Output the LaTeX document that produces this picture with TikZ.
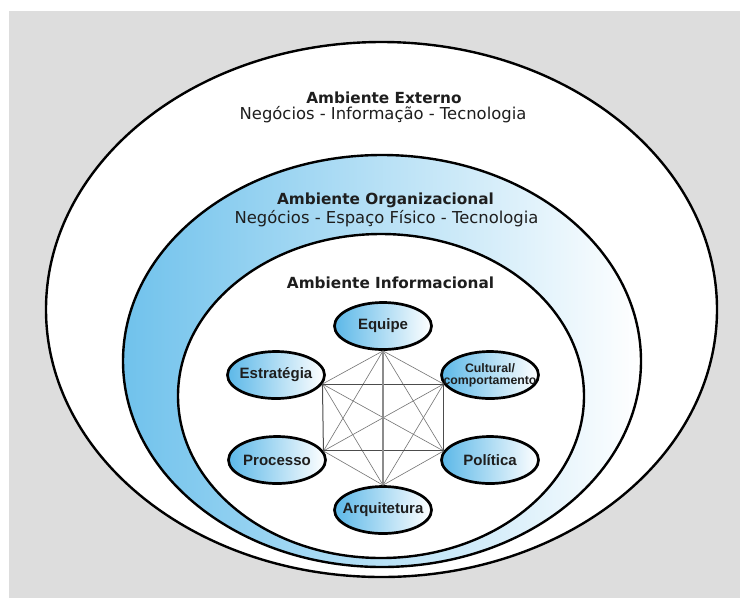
\documentclass[tikz,border=0pt]{standalone}
\usepackage{fontspec}
\usetikzlibrary{shapes.geometric}
\setmainfont{DejaVu Sans}
\newfontfamily\arialf{Liberation Sans}
\definecolor{bgray}{RGB}{221,221,221}
\definecolor{ringblue}{RGB}{112,194,236}
\definecolor{ovalblue}{RGB}{92,184,232}
\definecolor{txt}{RGB}{30,30,30}
\begin{document}
\begin{tikzpicture}[x=1pt,y=-1pt,
  bigline/.style={draw=black,line width=2.4pt},
  oval/.style={ellipse,draw=black,line width=2.7pt,minimum width=97pt,minimum height=47pt,inner sep=0pt,left color=ovalblue,right color=white},
  otext/.style={inner sep=0pt,text=txt,font=\arialf\bfseries\fontsize{15}{17}\selectfont},
  stext/.style={inner sep=0pt,text=txt,align=center,font=\arialf\bfseries\fontsize{12.3}{12}\selectfont},
  htitle/.style={anchor=base,inner sep=0pt,text=txt,font=\bfseries\fontsize{15.3}{18}\selectfont},
  hsub/.style={anchor=base,inner sep=0pt,text=txt,font=\fontsize{16.4}{18}\selectfont},
  rectl/.style={draw=black!70,line width=1pt},
  vertl/.style={draw=black!45,line width=2.2pt},
  diagl/.style={draw=black!55,line width=0.6pt}
]
\useasboundingbox (0,0) rectangle (741,598);
\fill[bgray] (9,11) rectangle (740,598);
% outer environment
\path[fill=white,bigline] (381.5,309.5) ellipse [x radius=335.5, y radius=267.5];
% organizational ring
\path[left color=ringblue,right color=white] (382,361) ellipse [x radius=259, y radius=206];
\path[bigline] (382,361) ellipse [x radius=259, y radius=206];
% informational
\path[fill=white,bigline] (381,396) ellipse [x radius=203, y radius=162];
% titles
\node[htitle] (ext) at (384,103) {Ambiente Externo};
\node[hsub] (extsub) at (383,119) {Negócios - Informação - Tecnologia};
\node[htitle] (org) at (385.5,204) {Ambiente Organizacional};
\node[hsub] (orgsub) at (386.5,223) {Negócios - Espaço Físico - Tecnologia};
\node[htitle] (inf) at (390.5,288) {Ambiente Informacional};
% ovals
\node[oval,label={[otext]center:Equipe}] (eq) at (383,326) {};
\node[oval,label={[otext]center:Estratégia}] (estr) at (276,375) {};
\node[oval,label={[stext]center:Cultural/\\comportamento}] (cult) at (490,375) {};
\node[oval,label={[otext]center:Processo}] (proc) at (277,460) {};
\node[oval,label={[otext]center:Política}] (pol) at (490,460) {};
\node[oval,label={[otext]center:Arquitetura}] (arq) at (383,510) {};
% network (complete graph)
\draw[diagl] (eq.south) -- (estr.-11);
\draw[diagl] (eq.south) -- (cult.191);
\draw[diagl] (eq.south) -- (proc.11);
\draw[diagl] (eq.south) -- (pol.169);
\draw[diagl] (arq.north) -- (estr.-11);
\draw[diagl] (arq.north) -- (cult.191);
\draw[diagl] (arq.north) -- (proc.11);
\draw[diagl] (arq.north) -- (pol.169);
\draw[diagl] (estr.-11) -- (pol.169);
\draw[diagl] (cult.191) -- (proc.11);
\draw[rectl] (estr.-11) -- (cult.191);
\draw[rectl] (cult.191) -- (pol.169);
\draw[rectl] (pol.169) -- (proc.11);
\draw[rectl] (proc.11) -- (estr.-11);
\draw[vertl] (eq.south) -- (arq.north);
\end{tikzpicture}
\end{document}
